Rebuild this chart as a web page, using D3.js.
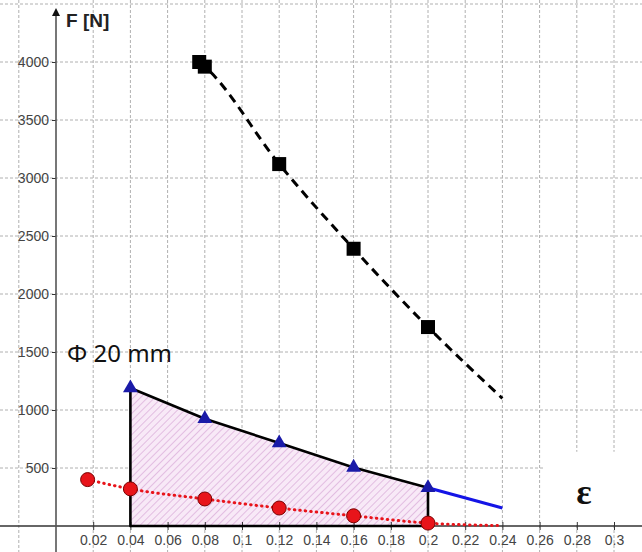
<!DOCTYPE html>
<html>
<head>
<meta charset="utf-8">
<script src="https://cdn.jsdelivr.net/npm/d3@7/dist/d3.min.js"></script>
<style>
  body { margin: 0; background: #fff; }
  svg { display: block; font-family: "Liberation Sans", Arial, sans-serif; }
</style>
</head>
<body>
<div id="chart"></div>
<script>
// tick values
const strainTicks = [0.02, 0.04, 0.06, 0.08, 0.1, 0.12, 0.14, 0.16, 0.18, 0.2, 0.22, 0.24, 0.26, 0.28, 0.3];
const forceTicks = [500, 1000, 1500, 2000, 2500, 3000, 3500, 4000];
const gridStrain = [-0.02, 0.02, 0.04, 0.06, 0.08, 0.1, 0.12, 0.14, 0.16, 0.18, 0.2, 0.22, 0.24, 0.26, 0.28, 0.3];
const gridForce = [500, 1000, 1500, 2000, 2500, 3000, 3500, 4000, 4500];

// black squares, dashed curve
const squareStrain = [0.077, 0.08, 0.12, 0.16, 0.2];
const squareForce = [4000, 3960, 3120, 2390, 1715];
const dashStrain = [0.077, 0.08, 0.12, 0.16, 0.2, 0.24];
const dashForce = [4000, 3960, 3120, 2390, 1715, 1100];

// blue triangles (Φ 20 mm), shaded region
const triStrain = [0.04, 0.08, 0.12, 0.16, 0.2];
const triForce = [1190, 925, 715, 505, 330];
const blueTailStrain = [0.2, 0.24];
const blueTailForce = [330, 155];

// red circles, dotted curve
const circStrain = [0.017, 0.04, 0.08, 0.12, 0.16, 0.2];
const circForce = [400, 320, 233, 155, 88, 25];
const dotStrain = [0.017, 0.04, 0.08, 0.12, 0.16, 0.2, 0.24];
const dotForce = [400, 320, 233, 155, 88, 25, 3];

const W = 642, H = 552;
const x = d3.scaleLinear().domain([0, 0.3]).range([56, 614]);
const y = d3.scaleLinear().domain([0, 4000]).range([526, 62]);

const svg = d3.select('#chart').append('svg')
	.attr('width', W)
	.attr('height', H);

const defs = svg.append('defs');
const pat = defs.append('pattern')
	.attr('id', 'hatch')
	.attr('patternUnits', 'userSpaceOnUse')
	.attr('width', 5)
	.attr('height', 5)
	.attr('patternTransform', 'rotate(45)');
pat.append('rect').attr('width', 5).attr('height', 5).attr('fill', '#f8e9f7');
pat.append('line')
	.attr('x1', 0).attr('y1', 0).attr('x2', 0).attr('y2', 5)
	.attr('stroke', '#d7a6d6').attr('stroke-width', 1.3);

// grid
svg.append('g').selectAll('line')
	.data(gridStrain)
	.enter().append('line')
	.attr('x1', d => x(d)).attr('x2', d => x(d))
	.attr('y1', 0).attr('y2', H)
	.attr('stroke', '#b0b0b0')
	.attr('stroke-dasharray', '3,2');

svg.append('g').selectAll('line')
	.data(gridForce)
	.enter().append('line')
	.attr('x1', 0).attr('x2', W)
	.attr('y1', d => y(d)).attr('y2', d => y(d))
	.attr('stroke', '#b0b0b0')
	.attr('stroke-dasharray', '3,2');

// white box behind the epsilon label
svg.append('rect')
	.attr('x', x(0.2625)).attr('y', y(640))
	.attr('width', W - x(0.2625)).attr('height', y(15) - y(640))
	.attr('fill', '#fff');

// shaded region
const region = [[0.04, 0]].concat(triStrain.map((s, i) => [s, triForce[i]]), [[0.2, 0]]);
svg.append('path')
	.attr('d', d3.line().x(d => x(d[0])).y(d => y(d[1]))(region) + 'Z')
	.attr('fill', 'url(#hatch)')
	.attr('stroke', 'none');

// axes
const xAxis = d3.axisBottom(x)
	.tickValues(strainTicks)
	.tickSize(4)
	.tickPadding(5)
	.tickFormat(d => String(+d.toFixed(2)));
const gx = svg.append('g')
	.attr('transform', `translate(0,${y(0)})`)
	.call(xAxis);
gx.select('.domain').remove();
gx.selectAll('line').attr('stroke', '#333').attr('y1', -4);
gx.selectAll('text').attr('font-size', 14).attr('fill', '#444');

const yAxis = d3.axisLeft(y)
	.tickValues(forceTicks)
	.tickSize(4)
	.tickPadding(3)
	.tickFormat(d3.format('d'));
const gy = svg.append('g')
	.attr('transform', `translate(${x(0)},0)`)
	.call(yAxis);
gy.select('.domain').remove();
gy.selectAll('line').attr('stroke', '#333');
gy.selectAll('text').attr('font-size', 14).attr('fill', '#444');

svg.append('line')
	.attr('x1', 0).attr('x2', W)
	.attr('y1', y(0)).attr('y2', y(0))
	.attr('stroke', '#333').attr('stroke-width', 1.6);
svg.append('line')
	.attr('x1', x(0)).attr('x2', x(0))
	.attr('y1', H).attr('y2', 14)
	.attr('stroke', '#555').attr('stroke-width', 1.6);
svg.append('path')
	.attr('d', `M${x(0) - 4},16 L${x(0)},8 L${x(0) + 4},16 Z`)
	.attr('fill', '#111');

svg.append('text')
	.attr('x', 66).attr('y', 27)
	.attr('font-size', 19).attr('font-weight', 'bold')
	.attr('fill', '#222')
	.text('F [N]');

// region outline
const outline = d3.line().x(d => x(d[0])).y(d => y(d[1]));
svg.append('path')
	.attr('d', outline(region) + 'Z')
	.attr('fill', 'none')
	.attr('stroke', '#000')
	.attr('stroke-width', 2.6)
	.attr('stroke-linejoin', 'round');

// blue extension
svg.append('path')
	.attr('d', outline(blueTailStrain.map((s, i) => [s, blueTailForce[i]])))
	.attr('fill', 'none')
	.attr('stroke', '#1414e6')
	.attr('stroke-width', 3);

// red dotted curve
const curve = d3.line().x(d => x(d[0])).y(d => y(d[1])).curve(d3.curveMonotoneX);
svg.append('path')
	.attr('d', curve(dotStrain.map((s, i) => [s, dotForce[i]])))
	.attr('fill', 'none')
	.attr('stroke', '#e8141a')
	.attr('stroke-width', 3)
	.attr('stroke-dasharray', '0.5,5')
	.attr('stroke-linecap', 'round');

// black dashed curve
svg.append('path')
	.attr('d', curve(dashStrain.map((s, i) => [s, dashForce[i]])))
	.attr('fill', 'none')
	.attr('stroke', '#000')
	.attr('stroke-width', 3)
	.attr('stroke-dasharray', '9,6');

// markers
svg.append('g').selectAll('rect')
	.data(squareStrain.map((s, i) => [s, squareForce[i]]))
	.enter().append('rect')
	.attr('x', d => x(d[0]) - 7)
	.attr('y', d => y(d[1]) - 7)
	.attr('width', 14).attr('height', 14)
	.attr('fill', '#000');

svg.append('g').selectAll('path')
	.data(triStrain.map((s, i) => [s, triForce[i]]))
	.enter().append('path')
	.attr('d', d3.symbol().type(d3.symbolTriangle).size(95))
	.attr('transform', d => `translate(${x(d[0])},${y(d[1])})`)
	.attr('fill', '#1a1aa8');

svg.append('g').selectAll('circle')
	.data(circStrain.map((s, i) => [s, circForce[i]]))
	.enter().append('circle')
	.attr('cx', d => x(d[0]))
	.attr('cy', d => y(d[1]))
	.attr('r', 7)
	.attr('fill', '#e8141a')
	.attr('stroke', '#7a0000')
	.attr('stroke-width', 1);

// labels
svg.append('text')
	.attr('x', 67).attr('y', 362)
	.attr('font-family', '"Noto Sans", sans-serif')
	.attr('font-size', 24)
	.attr('fill', '#111')
	.text('Φ 20 mm');

svg.append('text')
	.attr('x', 584).attr('y', 504)
	.attr('text-anchor', 'middle')
	.attr('font-family', '"Liberation Serif", serif')
	.attr('font-size', 36)
	.attr('font-weight', 'bold')
	.attr('fill', '#111')
	.text('ε');
</script>
</body>
</html>
